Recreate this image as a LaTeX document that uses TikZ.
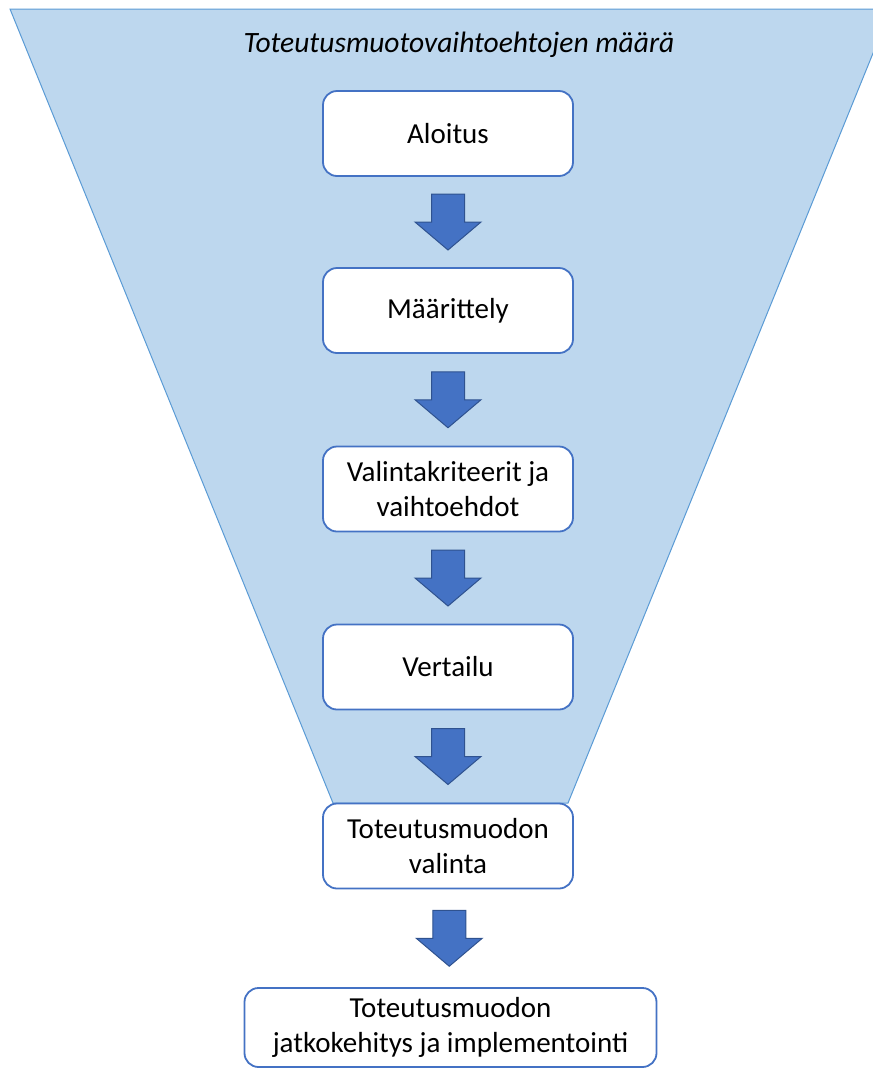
\documentclass[tikz,border=0pt]{standalone}
\usepackage{fontspec}
\setmainfont{Carlito}
\usetikzlibrary{calc}
\definecolor{funnelfill}{HTML}{BDD7EE}
\definecolor{funneledge}{HTML}{5B9BD5}
\definecolor{boxedge}{HTML}{4472C4}
\definecolor{arrowfill}{HTML}{4472C4}
\definecolor{arrowedge}{HTML}{2F528F}
\tikzset{
  stagebox/.style={draw=boxedge, line width=1.8pt, fill=white, rounded corners=14pt,
    minimum width=250pt, minimum height=85pt, align=center, inner sep=0pt,
    font=\fontsize{29}{35.5}\selectfont},
  blockarr/.style={fill=arrowfill, draw=arrowedge, line width=1pt, line join=miter},
}
% block arrow pointing down, centred on a named coordinate
\newcommand\downblock[1]{%
  \draw[blockarr, shift={(#1)}] (-16.5,-28) -- (16.5,-28) -- (16.5,0) -- (33,0)
    -- (0,28) -- (-33,0) -- (-16.5,0) -- cycle;}
\begin{document}
\begin{tikzpicture}[x=1pt,y=-1pt]
\useasboundingbox (0,0) rectangle (873,1069);
\begin{scope}
  \clip (0,0) rectangle (873,1069);
  % funnel
  \draw[fill=funnelfill, draw=funneledge, line width=1pt]
    (10,9) -- (891,9) -- (568,803) -- (333,803) -- cycle;
\end{scope}
\node[font=\fontsize{29.5}{35.5}\selectfont\itshape] (title) at (459,45) {Toteutusmuotovaihtoehtojen määrä};
\node[stagebox] (b1) at (448,133.5) {Aloitus};
\node[stagebox] (b2) at (448,310.5) {Määrittely};
\node[stagebox] (b3) at (448,489) {Valintakriteerit ja\\vaihtoehdot};
\node[stagebox] (b4) at (448,667) {Vertailu};
\node[stagebox] (b5) at (448,846) {Toteutusmuodon\\valinta};
\node[stagebox, minimum width=412pt, minimum height=79pt] (b6) at (450.5,1027.5) {Toteutusmuodon\\jatkokehitys ja implementointi};
\coordinate (m1) at ($(b1.south)!0.5!(b2.north)$);
\coordinate (m2) at ($(b2.south)!0.5!(b3.north)$);
\coordinate (m3) at ($(b3.south)!0.5!(b4.north)$);
\coordinate (m4) at ($(b4.south)!0.5!(b5.north)$);
\coordinate (m5) at ($(b5.south)!0.5!(b6.north)$);
\downblock{m1}
\downblock{m2}
\downblock{m3}
\downblock{m4}
\downblock{m5}
\end{tikzpicture}
\end{document}
